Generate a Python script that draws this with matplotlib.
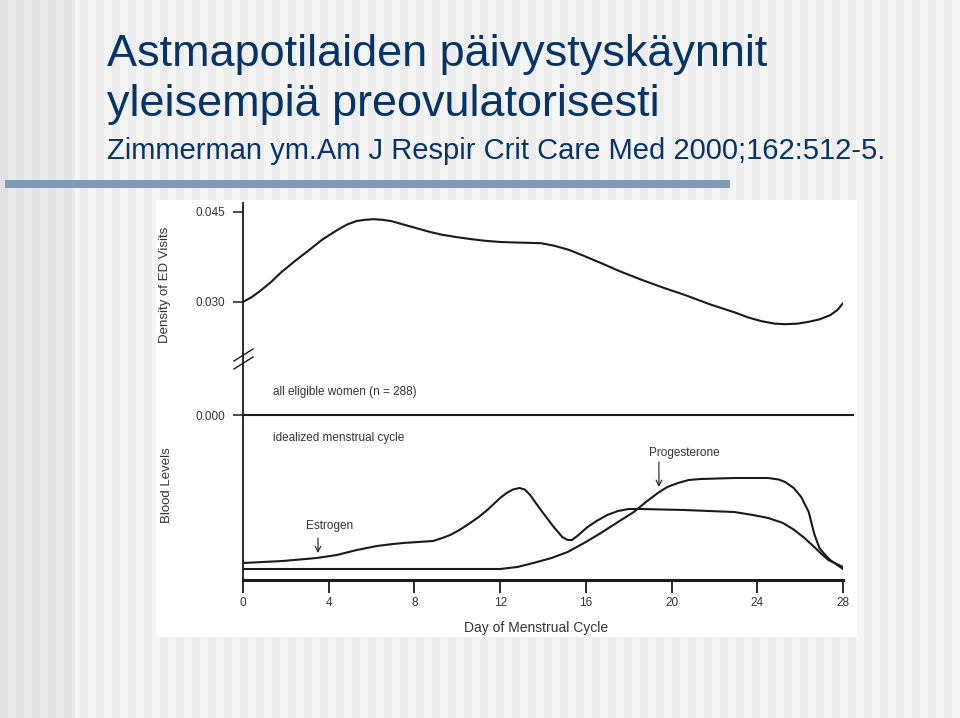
import matplotlib.pyplot as plt
from matplotlib.patches import Rectangle
from matplotlib.lines import Line2D
from matplotlib.ticker import FormatStrFormatter

# text of the slide
title_lines = ["Astmapotilaiden päivystyskäynnit", "yleisempiä preovulatorisesti"]
citation = "Zimmerman ym.Am J Respir Crit Care Med 2000;162:512-5."

# density of ED visits by cycle day
ed_day = [0, 0.4, 0.75, 1.3, 1.8, 2.45, 3.1, 3.7, 4.4, 4.85, 5.3, 5.7, 6.1,
          6.5, 6.9, 7.5, 8.1, 8.7, 9.3, 10.0, 10.6, 11.3, 12.0, 12.9, 13.9,
          14.5, 15.2, 15.9, 16.7, 17.6, 18.6, 19.6, 20.6, 21.8, 23.0, 23.6,
          24.2, 24.8, 25.3, 25.9, 26.4, 26.9, 27.4, 27.75, 28.0]
ed_density = [0.0300, 0.0308, 0.0317, 0.0333, 0.0350, 0.0369, 0.0387, 0.0404,
              0.0420, 0.0429, 0.0435, 0.0437, 0.0438, 0.0437, 0.0435, 0.0429,
              0.0423, 0.0417, 0.0412, 0.0408, 0.0405, 0.0402, 0.0400, 0.0399,
              0.0398, 0.0394, 0.0387, 0.0377, 0.0365, 0.0351, 0.0337, 0.0324,
              0.0312, 0.0296, 0.0282, 0.0274, 0.0268, 0.0264, 0.0263, 0.0264,
              0.0267, 0.0271, 0.0278, 0.0287, 0.0298]

# idealized hormone levels (arbitrary units)
estrogen_day = [0, 1.85, 3.44, 4.38, 5.31, 6.25, 7.0, 7.47, 8.87, 9.3, 9.67,
                10.1, 10.6, 11.0, 11.4, 11.7, 12.0, 12.3, 12.6, 12.9, 13.15,
                13.4, 13.9, 14.5, 14.9, 15.15, 15.35, 15.6, 16.08, 16.5, 17.0,
                17.5, 18.0, 18.57, 20.58, 22.92, 23.8, 24.51, 25.2, 25.73,
                26.2, 26.66, 27.0, 27.32, 27.7, 28.0]
estrogen_level = [1.7, 1.9, 2.2, 2.5, 3.0, 3.4, 3.6, 3.7, 3.9, 4.2, 4.5,
                  5.0, 5.7, 6.3, 7.0, 7.6, 8.2, 8.7, 9.05, 9.2, 9.05,
                  8.5, 7.0, 5.3, 4.3, 4.0, 4.0, 4.4, 5.3, 5.9, 6.5,
                  6.9, 7.1, 7.1, 7.0, 6.8, 6.5, 6.2, 5.7, 5.0,
                  4.2, 3.3, 2.6, 2.0, 1.6, 1.3]
progesterone_day = [0, 12.0, 12.8, 13.55, 14.4, 15.15, 16.0, 16.7, 17.5,
                    18.24, 18.8, 19.36, 19.8, 20.3, 20.8, 21.37, 22.92, 24.5,
                    25.0, 25.3, 25.7, 26.05, 26.4, 26.66, 26.9, 27.13, 27.4,
                    27.6, 28.0]
progesterone_level = [1.1, 1.1, 1.3, 1.7, 2.2, 2.8, 3.8, 4.7, 5.8,
                      6.8, 7.8, 8.7, 9.3, 9.7, 10.0, 10.1, 10.2, 10.2,
                      10.05, 9.8, 9.2, 8.3, 6.8, 4.6, 3.2, 2.6, 2.0,
                      1.7, 1.1]

day_ticks = [0, 4, 8, 12, 16, 20, 24, 28]

W, H = 960, 718
ink = '#1a1a1a'
txt = '#333333'
navy = '#073468'
plt.rcParams['font.family'] = ['Liberation Sans', 'DejaVu Sans']


def fx(x):
    return x / W


def fy(y):
    return 1 - y / H


def box(x0, y0, x1, y1):
    # pixel box -> figure rect
    return [fx(x0), fy(y1), (x1 - x0) / W, (y1 - y0) / H]


fig = plt.figure(figsize=(9.6, 7.18), dpi=100)

# striped slide background
bg = fig.add_axes([0, 0, 1, 1])
bg.set_xlim(0, W)
bg.set_ylim(H, 0)
bg.axis('off')
bg.add_patch(Rectangle((0, 0), W, H, color='#f5f5f5', zorder=0))
for x in range(0, W, 16):
    c = '#e2e2e2' if x < 75 else '#ececec'
    bg.add_patch(Rectangle((x, 0), 8, H, color=c, lw=0, zorder=1))
bg.add_patch(Rectangle((0, 0), 75, H, color='#ebebeb', lw=0, zorder=0.5))
# title rule
bg.add_patch(Rectangle((5, 180), 725, 7.5, color='#7f99b6', lw=0, zorder=2))
# white picture panel
bg.add_patch(Rectangle((156, 200), 701, 437, color='white', lw=0, zorder=2))

fig.text(fx(107), fy(66), title_lines[0], fontsize=32.4, color=navy, va='baseline')
fig.text(fx(107), fy(116), title_lines[1], fontsize=32.4, color=navy, va='baseline')
fig.text(fx(107), fy(159), citation, fontsize=21, color=navy, va='baseline')

px_day = (843 - 243) / 28.0


def style(ax):
    ax.set_facecolor('none')
    for s in ['top', 'right', 'bottom', 'left']:
        ax.spines[s].set_visible(False)
    ax.spines['left'].set_visible(True)
    ax.spines['left'].set_color(ink)
    ax.spines['left'].set_linewidth(1.3)
    ax.tick_params(axis='both', colors=ink, labelcolor=txt, labelsize=8.5,
                   length=7, width=1.1, pad=6)
    ax.set_xticks([])


# upper chart: density of ED visits
ax_top = fig.add_axes(box(243, 203, 843, 356))
style(ax_top)
ax_top.set_xlim(0, 28)
ax_top.set_ylim(0.030 - 54 / 6000, 0.030 + 99 / 6000)
ax_top.plot(ed_day, ed_density, color=ink, lw=1.5, solid_capstyle='round')
ax_top.set_yticks([0.030, 0.045])
ax_top.yaxis.set_major_formatter(FormatStrFormatter('%.3f'))

ax_mid = fig.add_axes(box(243, 356, 853, 415))
style(ax_mid)
ax_mid.set_xlim(0, (853 - 243) / px_day)
ax_mid.set_ylim(0, 1)
ax_mid.spines['bottom'].set_visible(True)
ax_mid.spines['bottom'].set_color(ink)
ax_mid.spines['bottom'].set_linewidth(1.5)
ax_mid.set_yticks([0])
ax_mid.set_yticklabels(['0.000'])

# lower chart: hormone blood levels
ax_bot = fig.add_axes(box(243, 415, 843, 580))
style(ax_bot)
ax_bot.set_xlim(0, 28)
ax_bot.set_ylim(0, 16.5)
ax_bot.spines['bottom'].set_visible(True)
ax_bot.spines['bottom'].set_color(ink)
ax_bot.spines['bottom'].set_linewidth(2.2)
ax_bot.set_yticks([])
ax_bot.set_xticks(day_ticks)
ax_bot.tick_params(axis='x', length=9, width=1.3, pad=3, labelsize=8.5)
ax_bot.plot(estrogen_day, estrogen_level, color=ink, lw=1.5)
ax_bot.plot(progesterone_day, progesterone_level, color=ink, lw=1.5)

arrow = dict(arrowstyle='->', color=ink, lw=0.8, shrinkA=0, shrinkB=0)
ax_bot.text(4.06, 5.4, 'Estrogen', fontsize=8.5, color=txt, ha='center', va='center')
ax_bot.annotate('', xy=(3.5, 2.7), xytext=(3.5, 4.2), arrowprops=arrow)
ax_bot.text(20.58, 12.7, 'Progesterone', fontsize=8.5, color=txt, ha='center', va='center')
ax_bot.annotate('', xy=(19.41, 9.3), xytext=(19.41, 11.8), arrowprops=arrow)

# axis break marks
for dy in (0, 8):
    fig.add_artist(Line2D([fx(234), fx(253)], [fy(361 + dy), fy(349 + dy)],
                          color=ink, lw=1.0))

fig.text(fx(273), fy(392), 'all eligible women (n = 288)', fontsize=8.5,
         color=txt, va='center')
fig.text(fx(273), fy(438), 'idealized menstrual cycle', fontsize=8.5,
         color=txt, va='center')
fig.text(fx(165), fy(285), 'Density of ED Visits', fontsize=9.5, color=txt,
         rotation=90, ha='center', va='center')
fig.text(fx(167), fy(485), 'Blood Levels', fontsize=9.5, color=txt,
         rotation=90, ha='center', va='center')
fig.text(fx(536), fy(628), 'Day of Menstrual Cycle', fontsize=10, color=txt,
         ha='center', va='center')

fig.savefig('out.png', dpi=100)
